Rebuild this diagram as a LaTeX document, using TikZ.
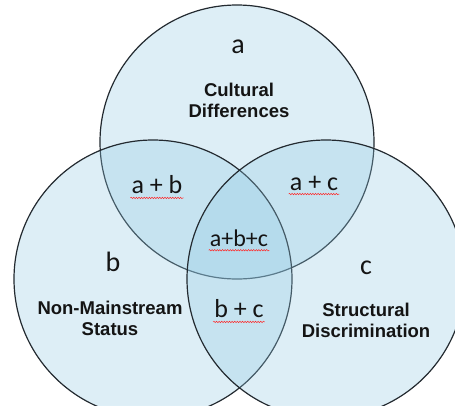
\documentclass[tikz,border=0pt]{standalone}
\usepackage{fontspec}
\setmainfont{Carlito}
\newfontfamily\labfont{Liberation Sans}
\definecolor{venfill}{RGB}{145,202,228}
\definecolor{venline}{RGB}{35,42,48}
\definecolor{txtblack}{RGB}{20,20,20}
\usetikzlibrary{decorations.pathmorphing}
\tikzset{
  setcirc/.style={fill=venfill,fill opacity=0.3,draw=venline,line width=1.2pt},
  setlab/.style={txtblack,font=\fontsize{28}{30}\selectfont},
  mixlab/.style={txtblack,inner sep=1pt,font=\fontsize{26}{28}\selectfont},
  namelab/.style={txtblack,align=center,font=\labfont\bfseries\fontsize{18.5}{21}\selectfont},
  squig/.style={red!85!white,line width=0.5pt,decorate,
    decoration={snake,amplitude=0.7pt,segment length=2.6pt}},
}

\begin{document}
\begin{tikzpicture}[x=1pt,y=-1pt]
  \useasboundingbox (0,0) rectangle (455,405);
  \fill[white] (0,0) rectangle (455,405);
  % --- circle centres (pixel grid, y pointing down) ---
  \coordinate (cA) at (237,142);
  \coordinate (cB) at (153,279);
  \coordinate (cC) at (326,279);
  \def\rA{137}\def\rB{139}\def\rC{139}
  % --- the three sets: top, left, right ---
  \draw[setcirc] (cA) circle[radius=\rA];
  \draw[setcirc] (cB) circle[radius=\rB];
  \draw[setcirc] (cC) circle[radius=\rC];
  % single set letters
  \node[setlab] (la) at (238,47)  {a};
  \node[setlab] (lb) at (113,262) {b};
  \node[setlab] (lc) at (366,268) {c};
  % set names
  \node[namelab] (nA) at (239,100) {Cultural\\Differences};
  \node[namelab] (nB) at (110,318) {Non-Mainstream\\Status};
  \node[namelab] (nC) at (366,320) {Structural\\Discrimination};
  % overlaps
  \node[mixlab] (ab)  at (157,185) {a + b};
  \node[mixlab] (ac)  at (314,183) {a + c};
  \node[mixlab,font=\fontsize{24}{26}\selectfont] (abc) at (239,238) {a+b+c};
  \node[mixlab] (bc)  at (239,309) {b + c};
  % spell-check squiggles under the overlap labels
  \foreach \n in {ab,ac,abc,bc}
    \draw[squig] ([yshift=-4pt]\n.base west) -- ([yshift=-4pt]\n.base east);
\end{tikzpicture}
\end{document}
